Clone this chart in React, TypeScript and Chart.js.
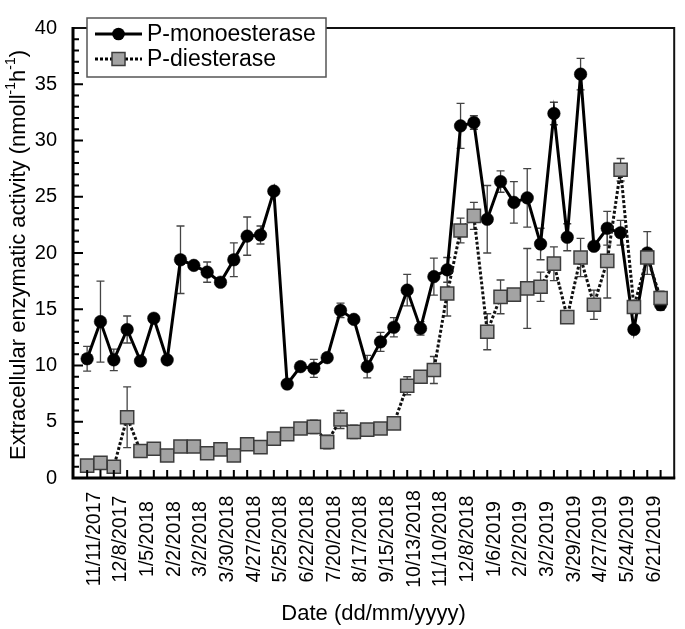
import React, { useEffect, useRef } from "react";
import { Chart, registerables } from "chart.js";

Chart.register(...registerables);

const tickLabels = [
  "11/11/2017", "12/8/2017", "1/5/2018", "2/2/2018", "3/2/2018", "3/30/2018",
  "4/27/2018", "5/25/2018", "6/22/2018", "7/20/2018", "8/17/2018", "9/15/2018",
  "10/13/2018", "11/10/2018", "12/8/2018", "1/6/2019", "2/2/2019", "3/2/2019",
  "3/29/2019", "4/27/2019", "5/24/2019", "6/21/2019",
];

const monoValues = [
  10.6, 13.9, 10.5, 13.2, 10.4, 14.2, 10.5, 19.4, 18.9, 18.3,
  17.4, 19.4, 21.5, 21.6, 25.5, 8.35, 9.9, 9.75, 10.7, 14.9,
  14.1, 9.9, 12.1, 13.4, 16.7, 13.3, 17.9, 18.5, 31.3, 31.6,
  23.0, 26.35, 24.5, 24.9, 20.8, 32.4, 21.4, 35.9, 20.6, 22.2,
  21.8, 13.2, 20.0, 15.4,
];
const monoErrors = [
  1.1, 3.6, 0.95, 1.2, 0, 0, 0, 3.0, 0, 0.9,
  0, 1.5, 1.7, 0.8, 0, 0, 0, 0.8, 0, 0.65,
  0, 1.0, 0.85, 0.85, 1.4, 0.6, 1.65, 1.1, 2.0, 0.6,
  3.0, 0.95, 1.85, 2.6, 1.4, 1.0, 1.2, 1.4, 0, 1.5,
  1.1, 0, 1.9, 0.5,
];

const diValues = [
  1.1, 1.35, 1.0, 5.4, 2.4, 2.6, 2.0, 2.8, 2.8, 2.2,
  2.55, 2.0, 3.0, 2.75, 3.5, 3.9, 4.4, 4.55, 3.2, 5.2,
  4.1, 4.3, 4.4, 4.85, 8.2, 9.0, 9.6, 16.4, 22.0, 23.3,
  13.0, 16.1, 16.3, 16.85, 17.0, 19.05, 14.3, 19.6, 15.4, 19.3,
  27.4, 15.2, 19.6, 16.0,
];
const diErrors = [
  0, 0, 0, 2.7, 0, 0, 0, 0, 0, 0,
  0, 0, 0.4, 0, 0, 0, 0, 0.6, 0.6, 0.8,
  0.6, 0, 0, 0.4, 0.8, 0, 1.2, 2.0, 1.1, 1.2,
  1.6, 1.5, 0, 3.55, 1.3, 1.5, 0, 1.7, 1.3, 3.3,
  1.0, 0, 0, 0.6,
];

const seriesNames = ["P-monoesterase", "P-diesterase"];
const xTitle = "Date (dd/mm/yyyy)";
const yTitleParts: [string, boolean][] = [
  ["Extracellular enzymatic activity (nmoll", false],
  ["-1", true],
  ["h", false],
  ["-1", true],
  [")", false],
];

const FONT = "'Liberation Sans', Arial, Helvetica, sans-serif";
const DI_FILL = "#a3a3a3";
const DI_EDGE = "#3c3c3c";

const errorBars = {
  id: "errorBars",
  beforeDatasetsDraw(chart: any) {
    const { ctx } = chart;
    const x = chart.scales.x;
    const y = chart.scales.y;
    const sets: [number[], number[]][] = [
      [monoValues, monoErrors],
      [diValues, diErrors],
    ];
    ctx.save();
    ctx.strokeStyle = "#444";
    ctx.lineWidth = 1.3;
    for (const [vals, errs] of sets) {
      vals.forEach((v, i) => {
        const e = errs[i];
        if (!e) return;
        const px = x.getPixelForValue(i);
        const top = y.getPixelForValue(v + e);
        const bot = y.getPixelForValue(v - e);
        ctx.beginPath();
        ctx.moveTo(px, top);
        ctx.lineTo(px, bot);
        ctx.moveTo(px - 4, top);
        ctx.lineTo(px + 4, top);
        ctx.moveTo(px - 4, bot);
        ctx.lineTo(px + 4, bot);
        ctx.stroke();
      });
    }
    ctx.restore();
  },
};

const decorations = {
  id: "decorations",
  afterDatasetsDraw(chart: any) {
    const { ctx, chartArea: a } = chart;
    const x = chart.scales.x;
    const y = chart.scales.y;
    ctx.save();
    ctx.strokeStyle = "#111";
    ctx.lineWidth = 2;
    ctx.strokeRect(a.left, a.top, a.right - a.left, a.bottom - a.top);
    ctx.lineWidth = 3;
    ctx.strokeStyle = "#000";
    ctx.beginPath();
    ctx.moveTo(a.left, a.top - 1);
    ctx.lineTo(a.left, a.bottom);
    ctx.lineTo(a.right + 1, a.bottom);
    ctx.stroke();
    ctx.lineWidth = 2;
    for (let v = 1; v < 40; v++) {
      const py = y.getPixelForValue(v);
      const len = v % 5 === 0 ? 10 : 6;
      ctx.beginPath();
      ctx.moveTo(a.left, py);
      ctx.lineTo(a.left + len, py);
      ctx.stroke();
    }
    for (let i = 0; i < monoValues.length; i++) {
      const px = x.getPixelForValue(i);
      ctx.beginPath();
      ctx.moveTo(px, a.bottom);
      ctx.lineTo(px, a.bottom - 8);
      ctx.stroke();
    }
    ctx.restore();
  },
  afterDraw(chart: any) {
    const { ctx, chartArea: a } = chart;
    const x = chart.scales.x;
    ctx.save();
    ctx.fillStyle = "#000";
    ctx.font = `19.5px ${FONT}`;
    ctx.textAlign = "center";
    ctx.textBaseline = "middle";
    tickLabels.forEach((lab, k) => {
      const px = x.getPixelForValue(k * 2) + 7;
      ctx.save();
      ctx.translate(px, 539);
      ctx.rotate(-Math.PI / 2);
      ctx.fillText(lab, 0, 0);
      ctx.restore();
    });
    ctx.font = `22px ${FONT}`;
    ctx.fillText(xTitle, (a.left + a.right) / 2, 614);
    const big = `22px ${FONT}`;
    const small = `14px ${FONT}`;
    let total = 0;
    for (const [t, sup] of yTitleParts) {
      ctx.font = sup ? small : big;
      total += ctx.measureText(t).width;
    }
    ctx.save();
    ctx.translate(19, (a.top + a.bottom) / 2 + 2);
    ctx.rotate(-Math.PI / 2);
    ctx.textAlign = "left";
    let cx = -total / 2;
    for (const [t, sup] of yTitleParts) {
      ctx.font = sup ? small : big;
      ctx.fillText(t, cx, sup ? -8 : 0);
      cx += ctx.measureText(t).width;
    }
    ctx.restore();

    const bx = 87, by = 18, bw = 239, bh = 59;
    ctx.fillStyle = "#fff";
    ctx.fillRect(bx, by, bw, bh);
    ctx.strokeStyle = "#555";
    ctx.lineWidth = 1.5;
    ctx.strokeRect(bx, by, bw, bh);
    const rows = [34, 59];
    ctx.strokeStyle = "#000";
    ctx.lineWidth = 3;
    ctx.setLineDash([]);
    ctx.beginPath();
    ctx.moveTo(95, rows[0]);
    ctx.lineTo(142, rows[0]);
    ctx.stroke();
    ctx.fillStyle = "#000";
    ctx.beginPath();
    ctx.arc(118.5, rows[0], 6.3, 0, Math.PI * 2);
    ctx.fill();
    ctx.setLineDash([3, 2]);
    ctx.beginPath();
    ctx.moveTo(95, rows[1]);
    ctx.lineTo(142, rows[1]);
    ctx.stroke();
    ctx.setLineDash([]);
    ctx.fillStyle = DI_FILL;
    ctx.fillRect(112, rows[1] - 6.5, 13, 13);
    ctx.strokeStyle = DI_EDGE;
    ctx.lineWidth = 1.5;
    ctx.strokeRect(112, rows[1] - 6.5, 13, 13);
    ctx.fillStyle = "#000";
    ctx.font = `23px ${FONT}`;
    ctx.textAlign = "left";
    ctx.textBaseline = "middle";
    ctx.fillText(seriesNames[0], 147, rows[0] + 1);
    ctx.fillText(seriesNames[1], 147, rows[1] + 1);
    ctx.restore();
  },
};

export default function App() {
  const ref = useRef<HTMLCanvasElement>(null);
  useEffect(() => {
    if (!ref.current) return;
    const chart = new Chart(ref.current, {
      type: "line",
      data: {
        datasets: [
          {
            label: seriesNames[0],
            data: monoValues.map((v, i) => ({ x: i, y: v })),
            borderColor: "#000",
            backgroundColor: "#000",
            borderWidth: 3,
            pointStyle: "circle",
            pointRadius: 6.3,
            pointBorderWidth: 0.5,
            pointBackgroundColor: "#000",
            pointBorderColor: "#000",
            tension: 0,
            order: 2,
          },
          {
            label: seriesNames[1],
            data: diValues.map((v, i) => ({ x: i, y: v })),
            borderColor: "#111",
            borderWidth: 3,
            borderDash: [3, 2],
            pointStyle: "rect",
            pointRadius: 9.3,
            pointBorderWidth: 1.5,
            pointBackgroundColor: DI_FILL,
            pointBorderColor: DI_EDGE,
            tension: 0,
            order: 1,
          },
        ],
      },
      options: {
        responsive: false,
        animation: false,
        devicePixelRatio: 1,
        layout: { padding: { top: 12, right: 3, left: 0, bottom: 0 } },
        plugins: { legend: { display: false }, tooltip: { enabled: false } },
        scales: {
          x: {
            type: "linear",
            min: -1.06,
            max: 44.02,
            grid: { display: false },
            border: { display: false },
            ticks: { display: false },
            afterFit: (s: any) => {
              s.height = 151;
            },
          },
          y: {
            min: 0,
            max: 40,
            grid: { display: false, drawTicks: false },
            border: { display: false },
            ticks: {
              stepSize: 5,
              padding: 16,
              color: "#000",
              font: { family: FONT, size: 20 },
            },
            afterFit: (s: any) => {
              s.width = 73;
            },
          },
        },
      },
      plugins: [errorBars, decorations],
    });
    return () => chart.destroy();
  }, []);
  return (
    <div style={{ position: "absolute", left: 0, top: 0, width: 685, height: 629 }}>
      <canvas ref={ref} width={685} height={629} />
    </div>
  );
}
